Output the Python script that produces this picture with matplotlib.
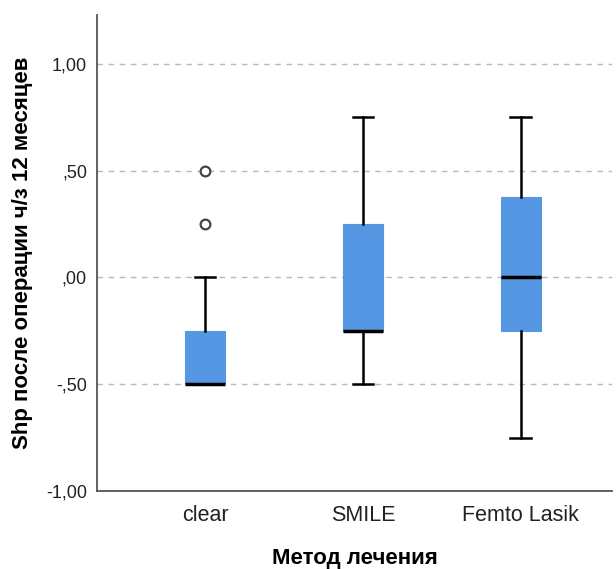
import matplotlib
matplotlib.use("Agg")
import matplotlib.pyplot as plt

plt.rcParams['font.family'] = ['Liberation Sans', 'DejaVu Sans']

groups = ["clear", "SMILE", "Femto Lasik"]
whislo = [-0.5, -0.5, -0.75]
q1 = [-0.5, -0.25, -0.25]
med = [-0.5, -0.25, 0.0]
q3 = [-0.25, 0.25, 0.375]
whishi = [0.0, 0.75, 0.75]
fliers = [[0.25, 0.5], [], []]
yticks = [-1.0, -0.5, 0.0, 0.5, 1.0]
ytick_labels = ["-1,00", "-,50", ",00", ",50", "1,00"]

stats = []
for i, g in enumerate(groups):
    stats.append({"label": g, "whislo": whislo[i], "q1": q1[i], "med": med[i],
                  "q3": q3[i], "whishi": whishi[i], "fliers": fliers[i]})

fig = plt.figure(figsize=(6.16, 5.69), dpi=100)
ax = fig.add_axes([0.157, 0.137, 0.837, 0.837])

ax.bxp(stats, positions=[1, 2, 3], widths=0.254, patch_artist=True,
       capwidths=0.13,
       boxprops=dict(facecolor="#5597e3", edgecolor="#5597e3", linewidth=0.8),
       medianprops=dict(color="black", linewidth=2.5),
       whiskerprops=dict(color="black", linewidth=1.8),
       capprops=dict(color="black", linewidth=1.8),
       flierprops=dict(marker="o", markersize=7, markerfacecolor="white",
                       markeredgecolor="#444444", markeredgewidth=1.6))

ax.set_xlim(0.314, 3.58)
ax.set_ylim(-1.0, 1.23)
ax.set_yticks(yticks)
ax.set_yticklabels(ytick_labels)
ax.tick_params(axis="y", length=0, labelsize=13, colors="#222222", pad=7)
ax.tick_params(axis="x", length=0, labelsize=15.5, colors="#222222", pad=10)
for y in yticks[1:]:
    ax.axhline(y, color="#b8b8b8", linestyle=(0, (4, 4)), linewidth=1, zorder=0)

ax.spines["top"].set_visible(False)
ax.spines["right"].set_visible(False)
ax.spines["left"].set_color("#555555")
ax.spines["bottom"].set_color("#555555")
ax.spines["left"].set_linewidth(1.3)
ax.spines["bottom"].set_linewidth(1.3)

ax.set_xlabel("Метод лечения", fontsize=16, fontweight="bold", labelpad=16)
ax.set_ylabel("Shp после операции ч/з 12 месяцев", fontsize=16, fontweight="bold", labelpad=9)

fig.savefig("out.png", dpi=100)
